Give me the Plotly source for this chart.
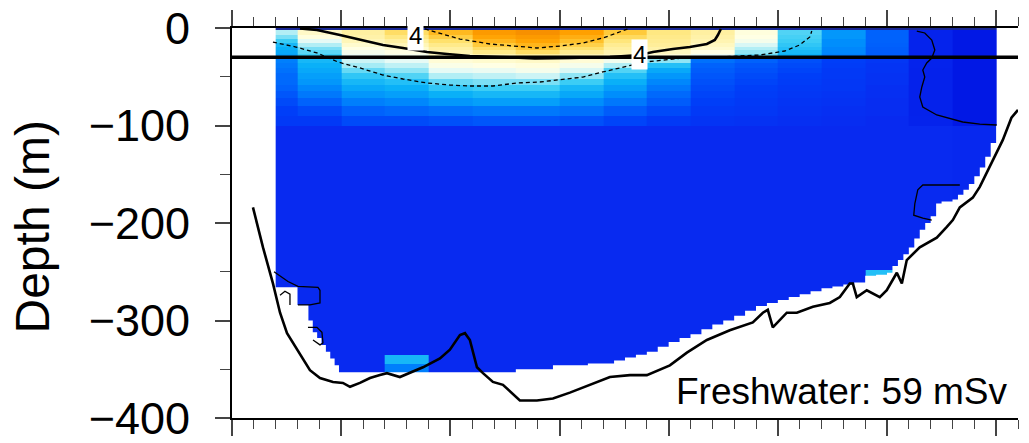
import plotly.graph_objects as go

# ---------------------------------------------------------------
# Section data (distance along section in km, depth in m)
# ---------------------------------------------------------------
dist_edges_km = [4, 6, 10, 14, 18, 22, 26, 30, 34, 38, 42, 46, 50, 54, 58, 62, 66, 70]
depth_edges_m = [0, -2, -7, -11, -15, -19, -23, -27, -31, -36, -41, -46, -52, -58,
                 -65, -72, -80, -90, -100, -248, -254, -335, -345, -360]

# temperature profile of each station column, listed from the surface downwards
profile_04 = [-2, 2.6, 2.3, 2.0, 1.85, 1.8, 1.75, 1.7, 1.5, 1.45, 1.4, 1.35, 1.35, 1.3, 1.2, 1.1, 1.0, 0.9, 0.6, 0.6, 0.6, 0.6, 0.6]
profile_08 = [-2, 3.9, 3.6, 3.0, 2.6, 2.3, 2.15, 2.0, 1.85, 1.8, 1.75, 1.7, 1.65, 1.55, 1.45, 1.3, 1.1, 0.9, 0.6, 0.6, 0.6, 0.6, 0.6]
profile_12 = [-2, 4.4, 4.3, 4.1, 3.8, 3.5, 3.3, 3.1, 2.8, 2.5, 2.2, 1.95, 1.85, 1.75, 1.65, 1.5, 1.3, 1.1, 0.6, 0.6, 0.6, 0.6, 0.6]
profile_16 = [-2, 5.2, 4.8, 4.4, 4.1, 3.8, 3.5, 3.3, 3.0, 2.7, 2.4, 2.1, 1.9, 1.8, 1.7, 1.55, 1.35, 1.1, 0.6, 0.6, 0.6, 1.85, 1.5]
profile_20 = [-2, 6.3, 5.7, 5.1, 4.7, 4.4, 4.2, 4.0, 3.7, 3.4, 3.0, 2.6, 2.2, 1.95, 1.8, 1.65, 1.4, 1.15, 0.6, 0.6, 0.6, 0.6, 0.6]
profile_24 = [-2, 7.2, 6.9, 6.4, 5.8, 5.2, 4.7, 4.2, 3.8, 3.5, 3.1, 2.7, 2.3, 2.0, 1.85, 1.7, 1.45, 1.2, 0.6, 0.6, 0.6, 0.6, 0.6]
profile_28 = [-2, 7.5, 7.2, 6.9, 6.4, 5.9, 5.2, 4.5, 3.9, 3.6, 3.3, 2.8, 2.3, 2.0, 1.85, 1.7, 1.45, 1.2, 0.6, 0.6, 0.6, 0.6, 0.6]
profile_32 = [-2, 7.0, 6.6, 6.1, 5.6, 5.1, 4.6, 4.2, 3.7, 3.3, 2.9, 2.4, 2.0, 1.85, 1.75, 1.6, 1.4, 1.15, 0.6, 0.6, 0.6, 0.6, 0.6]
profile_36 = [-2, 5.8, 5.3, 4.9, 4.6, 4.4, 4.2, 4.0, 3.2, 2.6, 2.1, 1.9, 1.8, 1.7, 1.6, 1.45, 1.25, 1.05, 0.6, 0.6, 0.6, 0.6, 0.6]
profile_40 = [-2, 4.8, 4.7, 4.6, 4.5, 4.3, 4.0, 3.7, 2.4, 1.9, 1.75, 1.65, 1.55, 1.45, 1.35, 1.25, 1.1, 0.9, 0.6, 0.6, 0.6, 0.6, 0.6]
profile_44 = [-2, 4.4, 4.3, 4.2, 4.0, 3.8, 3.5, 3.1, 1.4, 1.3, 1.25, 1.2, 1.15, 1.1, 1.05, 1.0, 0.9, 0.8, 0.6, 0.6, 0.6, 0.6, 0.6]
profile_48 = [-2, 3.6, 3.5, 3.3, 2.9, 2.6, 2.4, 2.2, 1.3, 1.2, 1.15, 1.1, 1.05, 1.0, 0.95, 0.9, 0.85, 0.75, 0.6, 0.6, 0.6, 0.6, 0.6]
profile_52 = [-2, 2.1, 2.05, 2.0, 1.95, 1.9, 1.85, 1.8, 1.15, 1.1, 1.05, 1.0, 0.95, 0.9, 0.85, 0.8, 0.75, 0.7, 0.6, 0.6, 0.6, 0.6, 0.6]
profile_56 = [-2, 1.65, 1.65, 1.6, 1.6, 1.55, 1.55, 1.5, 1.0, 0.95, 0.9, 0.9, 0.85, 0.85, 0.8, 0.75, 0.7, 0.65, 0.6, 0.6, 0.6, 0.6, 0.6]
profile_60 = [-2, 1.3, 1.3, 1.3, 1.28, 1.26, 1.25, 1.25, 0.85, 0.8, 0.8, 0.75, 0.75, 0.7, 0.7, 0.65, 0.65, 0.6, 0.6, 1.9, 0.6, 0.6, 0.6]
profile_64 = [-2, 0.4, 0.4, 0.4, 0.4, 0.4, 0.4, 0.4, 0.38, 0.38, 0.36, 0.36, 0.35, 0.35, 0.35, 0.35, 0.35, 0.4, 0.6, 0.6, 0.6, 0.6, 0.6]
profile_68 = [-2, 0.05, 0.05, 0.05, 0.05, 0.05, 0.05, 0.05, 0.05, 0.05, 0.05, 0.05, 0.05, 0.05, 0.05, 0.05, 0.05, 0.05, 0.55, 0.55, 0.55, 0.55, 0.55]

station_profiles = [profile_04, profile_08, profile_12, profile_16, profile_20, profile_24,
                    profile_28, profile_32, profile_36, profile_40, profile_44, profile_48,
                    profile_52, profile_56, profile_60, profile_64, profile_68]

# deepest valid sample along the section (stepwise)
coverage_km = [4.0, 6.0, 7.0, 7.4, 7.8, 8.2, 8.6, 9.0, 9.4, 9.8, 26.0, 29.4, 32.6, 35.0, 36.0,
               37.0, 38.0, 39.0, 40.0, 41.0, 42.0, 43.0, 44.0, 45.0, 46.0, 47.0, 48.0, 49.0,
               50.0, 51.0, 52.0, 53.0, 54.0, 55.0, 56.0, 57.0, 58.0, 59.0, 60.0, 60.5, 61.0,
               61.5, 62.0, 62.5, 63.0, 63.5, 64.0, 64.5, 65.0, 66.0, 66.5, 67.0, 67.5, 68.0,
               68.5, 69.0, 69.5, 70.0]
coverage_depth = [-266, -284, -300, -312, -318, -325, -332, -339, -346, -353, -350, -346, -344,
                  -341, -338, -335, -332, -327, -322, -318, -314, -309, -304, -300, -295, -290,
                  -285, -282, -279, -276, -273, -270, -267, -265, -263, -261, -254, -253, -251,
                  -244, -238, -232, -225, -216, -207, -200, -193, -180, -178, -176, -171, -166,
                  -160, -152, -143, -132, -118, -100]

# seabed profile
bathy_km = [1.92, 2.84, 3.75, 4.40, 5.04, 5.95, 7.14, 8.06, 9.25, 10.16, 10.81, 11.72, 12.64,
            13.55, 14.19, 15.38, 16.30, 17.49, 19.05, 19.96, 20.88, 21.34, 21.79, 22.44, 22.99,
            23.90, 24.82, 25.73, 26.37, 27.93, 29.40, 30.95, 32.14, 33.42, 34.62, 36.45, 38.00,
            40.11, 41.67, 43.50, 45.60, 47.71, 48.63, 49.08, 49.54, 50.82, 51.74, 53.21, 54.76,
            55.68, 56.59, 56.87, 57.23, 58.15, 59.34, 59.98, 60.90, 61.36, 61.81, 63.00, 64.56,
            65.48, 66.03, 66.67, 67.86, 68.50, 69.70, 70.60, 71.40, 72.00]
bathy_depth = [-184, -225, -262, -292, -313, -330, -351, -359, -363, -364, -368, -364, -359,
               -356, -354, -358, -354, -348, -339, -330, -315, -313, -320, -348, -354,
               -363, -366, -376, -382, -382, -380, -374, -369, -363, -358, -356, -356,
               -346, -333, -320, -310, -302, -292, -289, -307, -292, -292, -286, -282,
               -276, -262, -262, -276, -269, -276, -269, -251, -262, -238, -225, -215,
               -204, -197, -184, -174, -163, -136, -115, -92, -84]

# isotherms
iso4_km = [6.23, 7.78, 9.89, 11.72, 13.83, 15.66, 17.86, 19.69, 21.79, 24.54, 27.75, 30.95,
           34.62, 37.36, 38.55, 40.38, 41.94, 43.50, 44.23, 44.51, 44.78]
iso4_depth = [-0.5, -2.1, -7.2, -12.3, -17.4, -20.5, -24.6, -26.7, -28.7, -29.7, -31.3, -30.8,
              -29.7, -27.7, -24.6, -21.5, -19.5, -16.4, -12.3, -7.2, -1.0]
iso6_km = [17.67, 19.05, 20.88, 23.63, 26.10, 27.93, 30.04, 32.14, 33.97, 35.35, 36.26]
iso6_depth = [-1.0, -5.1, -11.3, -16.4, -18.5, -20.5, -18.5, -15.4, -10.3, -5.1, -1.0]
iso2_km = [3.75, 5.86, 7.78, 9.71, 11.72, 13.83, 15.66, 17.86, 19.96, 21.79, 23.90, 26.10,
           28.20, 30.04, 32.14, 33.97, 35.81, 37.82, 41.30, 44.69, 48.35, 50.64, 52.01, 52.93, 53.11]
iso2_depth = [-14.4, -19.5, -25.6, -34.9, -41.0, -48.2, -52.3, -56.4, -58.5, -59.5, -59.5, -56.4,
              -55.4, -53.3, -50.3, -45.1, -40.0, -34.9, -30.8, -29.7, -27.7, -23.6, -17.4, -9.2, -3.1]
iso0_east_km = [62.73, 63.46, 64.10, 64.38, 64.10, 63.64, 63.28, 63.46, 63.19, 63.00, 63.28,
                64.56, 66.94, 68.50, 70.05]
iso0_east_depth = [-3.1, -5.1, -12.3, -22.6, -30.8, -35.9, -43.1, -50.3, -60.5, -70.8, -81.0,
                   -89.2, -96.4, -98.5, -99.5]
iso0_slope_km = [66.67, 63.28, 62.82, 62.55, 62.45, 63.28, 64.10]
iso0_slope_depth = [-161, -161, -166, -180, -192, -195, -197]
iso0_west_a_km = [3.85, 5.13, 6.04, 7.88, 8.06, 8.06, 7.14, 6.04]
iso0_west_a_depth = [-250, -260, -265, -266, -269, -282, -284, -284]
iso0_west_b_km = [4.40, 4.85, 5.31, 5.31]
iso0_west_b_depth = [-274, -270, -273, -284]
iso0_west_c_km = [6.96, 7.78, 8.24, 8.33, 8.06, 7.42]
iso0_west_c_depth = [-307, -307, -312, -323, -325, -320]

iso4_label_km = [16.85, 37.36]
iso4_label_depth = [-8.2, -26.7]
iso4_level = 4

mixed_layer_depth = -30
freshwater_msv = 59
depth_min, depth_max = -400, 0
dist_min, dist_max = 0, 72

# ---------------------------------------------------------------
# colour table (temperature, degC)
# ---------------------------------------------------------------
zmin, zmax = -2.0, 8.0
color_stops = [
    (-2.0, "rgb(25,40,150)"),
    (-0.5, "rgb(0,10,215)"),
    (0.0, "rgb(0,22,228)"),
    (0.6, "rgb(8,42,240)"),
    (1.0, "rgb(0,62,248)"),
    (1.3, "rgb(0,98,252)"),
    (1.6, "rgb(0,142,252)"),
    (1.8, "rgb(10,176,248)"),
    (2.0, "rgb(60,205,245)"),
    (2.5, "rgb(165,235,245)"),
    (3.0, "rgb(230,250,245)"),
    (3.5, "rgb(255,255,228)"),
    (4.0, "rgb(255,248,192)"),
    (5.0, "rgb(255,228,115)"),
    (6.0, "rgb(255,195,45)"),
    (7.0, "rgb(255,160,0)"),
    (8.0, "rgb(238,128,0)"),
]
colorscale = [[(v - zmin) / (zmax - zmin), c] for v, c in color_stops]

# grid rows ordered from the deepest layer upwards
n_layers = len(depth_edges_m) - 1
z_rows = [[prof[n_layers - 1 - k] for prof in station_profiles] for k in range(n_layers)]
y_edges = depth_edges_m[::-1]

fig = go.Figure()

fig.add_trace(go.Heatmap(
    x=dist_edges_km, y=y_edges, z=z_rows,
    zmin=zmin, zmax=zmax, colorscale=colorscale,
    showscale=False, hoverinfo="skip",
))

# blank out everything below the deepest valid sample, across the full section width
mask_x = [dist_min] + coverage_km + [dist_max, dist_max, dist_min]
mask_y = [coverage_depth[0]] + coverage_depth + [coverage_depth[-1], depth_min, depth_min]
fig.add_trace(go.Scatter(
    x=mask_x, y=mask_y, mode="lines", line=dict(width=0, color="white", shape="hv"),
    fill="toself", fillcolor="white", hoverinfo="skip",
))

thin = dict(color="black", width=1.3)
dashed = dict(color="black", width=1.3, dash="4px,3px")
for xs, ys, style in [
    (iso6_km, iso6_depth, dashed),
    (iso2_km, iso2_depth, dashed),
    (iso0_east_km, iso0_east_depth, thin),
    (iso0_slope_km, iso0_slope_depth, thin),
    (iso0_west_a_km, iso0_west_a_depth, thin),
    (iso0_west_b_km, iso0_west_b_depth, thin),
    (iso0_west_c_km, iso0_west_c_depth, thin),
]:
    fig.add_trace(go.Scatter(x=xs, y=ys, mode="lines", line=style, hoverinfo="skip"))

fig.add_trace(go.Scatter(x=iso4_km, y=iso4_depth, mode="lines",
                         line=dict(color="black", width=2.6), hoverinfo="skip"))

# mixed-layer reference depth
fig.add_trace(go.Scatter(x=[dist_min, dist_max], y=[mixed_layer_depth, mixed_layer_depth],
                         mode="lines", line=dict(color="black", width=3.5), hoverinfo="skip"))

# seabed
fig.add_trace(go.Scatter(x=bathy_km, y=bathy_depth, mode="lines",
                         line=dict(color="black", width=2.6), hoverinfo="skip"))

for lx, ly in zip(iso4_label_km, iso4_label_depth):
    fig.add_annotation(x=lx, y=ly, text=str(iso4_level), showarrow=False,
                       font=dict(size=24, color="black"), bgcolor="white", borderpad=1)

fig.add_annotation(xref="paper", yref="paper", x=0.9898, y=0.067, xanchor="right",
                   yanchor="middle", text=f"Freshwater: {freshwater_msv} mSv",
                   showarrow=False, font=dict(size=37, color="black"))

fig.add_annotation(xref="paper", yref="paper", x=-0.2532, y=0.491, xanchor="center",
                   yanchor="middle", text="Depth (m)", textangle=-90, showarrow=False,
                   font=dict(size=48, color="black"))

fig.update_layout(
    width=1029, height=443,
    margin=dict(l=232, r=11, t=28, b=25, autoexpand=False),
    paper_bgcolor="white", plot_bgcolor="white",
    showlegend=False,
    font=dict(family="Liberation Sans, Arial, sans-serif", color="black"),
    xaxis=dict(range=[dist_min, dist_max], tick0=0, dtick=10, ticks="outside", ticklen=16,
               tickwidth=1.5, showticklabels=False, showgrid=False, zeroline=False,
               showline=True, linewidth=2, linecolor="black", mirror="ticks",
               automargin=False,
               minor=dict(dtick=2, ticks="outside", ticklen=9, tickwidth=1.2)),
    yaxis=dict(range=[depth_min, depth_max], tick0=0, dtick=100, ticks="outside", ticklen=15,
               tickwidth=1.5, tickfont=dict(size=45), showgrid=False, zeroline=False,
               showline=True, linewidth=2, linecolor="black", ticklabelstandoff=16,
               ticklabeloverflow="allow", automargin=False,
               minor=dict(dtick=50, ticks="outside", ticklen=10, tickwidth=1.2)),
    yaxis2=dict(range=[depth_min, depth_max], overlaying="y", side="right", tick0=0, dtick=50,
                ticks="outside", ticklen=8, tickwidth=1.2, showticklabels=False,
                showgrid=False, zeroline=False, showline=True, linewidth=2, linecolor="black",
                automargin=False),
)

fig.write_html("out.html")
